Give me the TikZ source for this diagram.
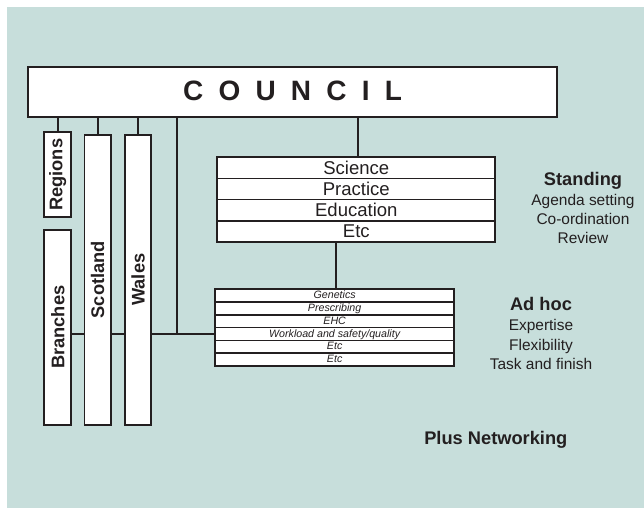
\documentclass[tikz,border=0pt]{standalone}
\usepackage{fontspec}
\setmainfont{Liberation Sans}
\usetikzlibrary{calc}
\definecolor{bgteal}{HTML}{C7DEDB}
\definecolor{ink}{HTML}{231F20}
\pgfdeclarelayer{bglayer}
\pgfdeclarelayer{linelayer}
\pgfsetlayers{bglayer,linelayer,main}
\begin{document}
\begin{tikzpicture}[x=0.75pt,y={(0pt,-0.75pt)},
  box/.style={draw=ink, fill=white, line width=1.3pt, inner sep=0pt, outer sep=0pt, text=ink},
  conn/.style={draw=ink, line width=1.4pt},
  vlabel/.style={rotate=90, inner sep=0pt, text=ink, font=\fontsize{13.7}{16}\selectfont\bfseries},
  srow/.style={box, minimum width=208.5pt, minimum height=15.88pt, font=\fontsize{13.9}{16}\selectfont},
  arow/.style={box, minimum width=179pt, minimum height=9.58pt, text height=5.9pt, text depth=1.3pt, font=\fontsize{8}{9}\selectfont\itshape},
  head/.style={inner sep=0pt, anchor=base, text=ink, font=\fontsize{13.7}{16}\selectfont\bfseries},
  item/.style={inner sep=0pt, anchor=base, text=ink, font=\fontsize{11.6}{14}\selectfont}]
\begin{pgfonlayer}{bglayer}
\useasboundingbox (0,0) rectangle (644,508);
\fill[bgteal] (7,7) rectangle (644,508);
\end{pgfonlayer}

% council
\node[box, minimum width=396.75pt, minimum height=37.5pt,
      font=\fontsize{21}{25}\selectfont\bfseries] (council) at (292.5,92)
  {\raisebox{1.4pt}{C\hspace{11.4pt}O\hspace{11.4pt}U\hspace{11.4pt}N\hspace{11.4pt}C\hspace{11.4pt}I\hspace{11.4pt}L}};

% vertical boxes
\node[box, minimum width=20.25pt, minimum height=63.75pt] (regions) at (57.8,174.8) {};
\node[vlabel] (regionslbl) at (regions) {Regions};
\node[box, minimum width=20.25pt, minimum height=146.25pt] (branches) at (57.8,327.2) {};
\node[vlabel] (brancheslbl) at (branches) {Branches};
\node[box, minimum width=20pt, minimum height=217.5pt] (scotland) at (97.7,279.7) {};
\node[vlabel] (scotlandlbl) at (scotland) {Scotland};
\node[box, minimum width=19.7pt, minimum height=217.5pt] (wales) at (138.2,279.7) {};
\node[vlabel] (waleslbl) at (wales) {Wales};

% standing committees
\node[srow] (s1) at (356.3,167.9) {Science};
\node[srow] (s2) at (356.3,189.06) {Practice};
\node[srow] (s3) at (356.3,210.2) {Education};
\node[srow] (s4) at (356.3,231.4) {Etc};

% ad hoc groups
\node[arow] (a1) at (334.65,295.7) {Genetics};
\node[arow] (a2) at (334.65,308.5) {Prescribing};
\node[arow] (a3) at (334.65,321.3) {EHC};
\node[arow] (a4) at (334.65,334.0) {Workload and safety/quality};
\node[arow] (a5) at (334.65,346.8) {Etc};
\node[arow] (a6) at (334.65,359.6) {Etc};

% connectors
\coordinate (trunk) at (176.7,117);
\coordinate (stop) at (358.3,117);
\coordinate (sbot) at (335.7,242);
\begin{pgfonlayer}{linelayer}
\draw[conn] (regions.north) -- (regions.north |- council.south);
\draw[conn] (scotland.north) -- (scotland.north |- council.south);
\draw[conn] (wales.north) -- (wales.north |- council.south);
\draw[conn] (trunk |- council.south) -- (trunk |- a4.west);
\draw[conn] (branches.east |- a4.west) -- (a4.west);
\draw[conn] (stop |- council.south) -- (stop |- s1.north);
\draw[conn] (sbot |- s4.south) -- (sbot |- a1.north);
\end{pgfonlayer}

% right-hand text
\node[head] (standing) at (583,185.7) {Standing};
\node[item] (agenda) at (583,205) {Agenda setting};
\node[item] (coord) at (583,224.3) {Co-ordination};
\node[item] (review) at (583,243.5) {Review};
\node[head] (adhoc) at (541,310) {Ad hoc};
\node[item] (expertise) at (541,330.7) {Expertise};
\node[item] (flex) at (541,350) {Flexibility};
\node[item] (task) at (541,369.2) {Task and finish};
\node[head, anchor=base west] (plus) at (424,444) {Plus Networking};
\end{tikzpicture}
\end{document}
